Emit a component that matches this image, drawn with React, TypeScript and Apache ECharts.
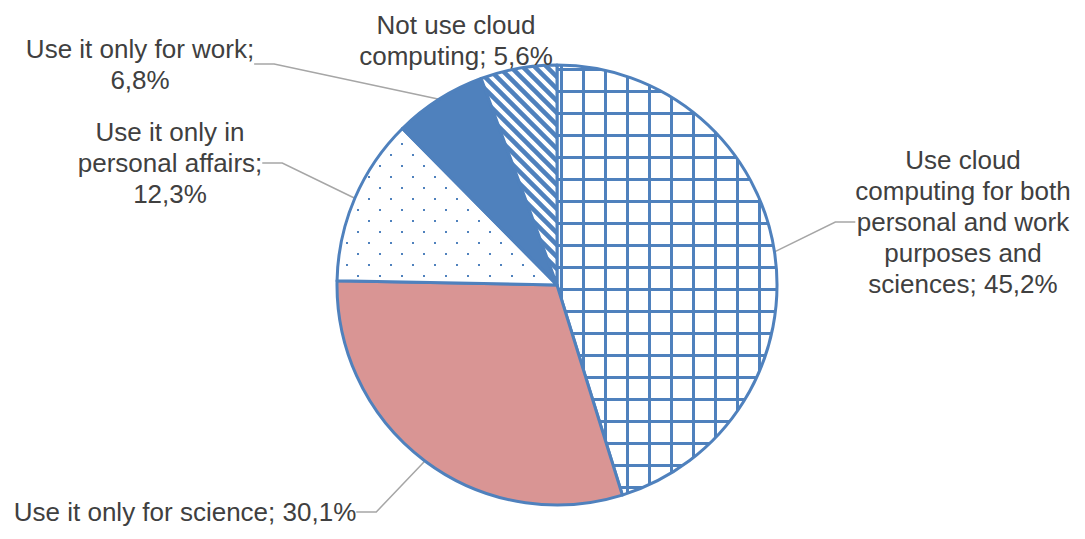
import React, { useEffect, useRef } from "react";
import * as echarts from "echarts";

const categories = [
  "Use cloud\ncomputing for both\npersonal and work\npurposes and\nsciences",
  "Use it only for science",
  "Use it only in\npersonal affairs",
  "Use it only for work",
  "Not use cloud\ncomputing",
];
const values = [45.2, 30.1, 12.3, 6.8, 5.6];
// separator between name and value in each label (line break or space)
const valueSeparators = [" ", " ", "\n", "\n", " "];
const showLeader = [true, true, true, true, false];
const labelCenters = [
  [963, 222],
  [185, 512],
  [170, 163],
  [140, 64],
  [456, 40],
];

const BLUE = "#4f81bd";
const PINK = "#d99594";

function makeCanvas(w: number, h: number, draw: (ctx: CanvasRenderingContext2D) => void) {
  const c = document.createElement("canvas");
  c.width = w;
  c.height = h;
  const ctx = c.getContext("2d")!;
  ctx.fillStyle = "#ffffff";
  ctx.fillRect(0, 0, w, h);
  draw(ctx);
  return c;
}

export default function App() {
  const ref = useRef<HTMLDivElement>(null);
  useEffect(() => {
    if (!ref.current) return;
    const chart = echarts.init(ref.current, null, { renderer: "svg" });

    const grid = makeCanvas(22, 22, (ctx) => {
      ctx.fillStyle = BLUE;
      ctx.fillRect(10, 0, 3, 22);
      ctx.fillRect(0, 2, 22, 3);
    });
    const dots = makeCanvas(22, 22, (ctx) => {
      ctx.fillStyle = BLUE;
      ctx.fillRect(5, 11, 2, 2);
      ctx.fillRect(16, 0, 2, 2);
    });
    const stripes = makeCanvas(12, 12, (ctx) => {
      ctx.strokeStyle = BLUE;
      ctx.lineWidth = 4.5;
      ctx.beginPath();
      ctx.moveTo(-6, -6);
      ctx.lineTo(18, 18);
      ctx.moveTo(-18, -6);
      ctx.lineTo(6, 18);
      ctx.moveTo(6, -6);
      ctx.lineTo(30, 18);
      ctx.stroke();
    });

    const fills: any[] = [
      { image: grid, repeat: "repeat" },
      PINK,
      { image: dots, repeat: "repeat" },
      BLUE,
      { image: stripes, repeat: "repeat" },
    ];

    chart.setOption({
      animation: false,
      series: [
        {
          type: "pie",
          center: [557, 285],
          radius: 220,
          startAngle: 90,
          clockwise: true,
          avoidLabelOverlap: false,
          data: values.map((v, i) => ({
            name: categories[i],
            value: v,
            itemStyle: { color: fills[i] },
            labelLine: {
              show: true,
              lineStyle: { color: "#a6a6a6", width: 1.5, opacity: showLeader[i] ? 1 : 0 },
            },
          })),
          itemStyle: { borderColor: BLUE, borderWidth: 3 },
          label: {
            show: true,
            position: "outside",
            formatter: (p: any) =>
              `${p.name};${valueSeparators[p.dataIndex]}${String(p.value).replace(".", ",")}%`,
            fontFamily: "Liberation Sans, Arial, sans-serif",
            fontSize: 26,
            lineHeight: 31,
            color: "#404040",
            align: "center",
          },
          labelLine: {
            show: true,
            length: 20,
            length2: 20,
            lineStyle: { color: "#a6a6a6", width: 1.5 },
          },
          labelLayout: (params: any) => {
            const c = labelCenters[params.dataIndex];
            return { x: c[0], y: c[1], align: "center", verticalAlign: "middle" };
          },
          emphasis: { disabled: true },
        },
      ],
    });
    return () => chart.dispose();
  }, []);
  return (
    <div
      ref={ref}
      style={{ position: "absolute", left: 0, top: 0, width: 1085, height: 539, background: "#fff" }}
    />
  );
}
